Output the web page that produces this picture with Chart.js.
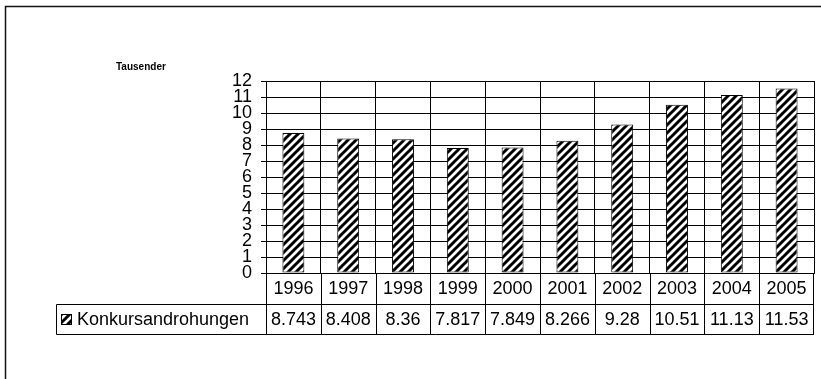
<!DOCTYPE html>
<html>
<head>
<meta charset="utf-8">
<script src="https://cdn.jsdelivr.net/npm/chart.js@4/dist/chart.umd.min.js"></script>
<style>
  html, body { margin: 0; padding: 0; background: #fff; }
  #wrap { width: 821px; height: 379px; position: relative; }
</style>
</head>
<body>
<div id="wrap"><canvas id="c" width="821" height="379"></canvas></div>
<script>
// Years shown as categories and in the data table header row
const years = ['1996', '1997', '1998', '1999', '2000', '2001', '2002', '2003', '2004', '2005'];
// Konkursandrohungen in thousands
const konkursandrohungen = [8.743, 8.408, 8.36, 7.817, 7.849, 8.266, 9.28, 10.51, 11.13, 11.53];
const seriesName = 'Konkursandrohungen';
const unitLabel = 'Tausender';
// Value axis range
const yMin = 0;
const yMax = 12;
const yStep = 1;

const FONT = '"Liberation Sans", Arial, sans-serif';

// Diagonal hatch fill ("/" stripes)
function makeHatch() {
  const s = 8;
  const c = document.createElement('canvas');
  c.width = s; c.height = s;
  const g = c.getContext('2d');
  g.fillStyle = '#fff';
  g.fillRect(0, 0, s, s);
  g.strokeStyle = '#000';
  g.lineWidth = 3;
  g.beginPath();
  for (let k = -s; k <= s; k += s) {
    g.moveTo(k - 1, s + 1);
    g.lineTo(k + s + 1, -1);
  }
  g.stroke();
  return g.createPattern(c, 'repeat');
}
const hatch = makeHatch();

// Frame, unit label and the data table under the plot
const tablePlugin = {
  id: 'dataTable',
  afterDraw(chart) {
    const ctx = chart.ctx;
    const area = chart.chartArea;
    const x = chart.scales.x;
    const n = years.length;
    const colW = (area.right - area.left) / n;
    const top = area.bottom;
    const mid = top + 31;
    const bot = mid + 30;
    const legendLeft = 56;

    ctx.save();
    // outer frame
    ctx.strokeStyle = '#111';
    ctx.lineWidth = 1.5;
    ctx.beginPath();
    ctx.moveTo(5.5, chart.height + 2);
    ctx.lineTo(5.5, 6.5);
    ctx.lineTo(chart.width + 2, 6.5);
    ctx.stroke();

    // unit label
    ctx.fillStyle = '#000';
    ctx.font = 'bold 10px ' + FONT;
    ctx.textAlign = 'left';
    ctx.textBaseline = 'middle';
    ctx.fillText(unitLabel, 116, 67);

    // table grid
    ctx.strokeStyle = '#000';
    ctx.lineWidth = 1;
    ctx.beginPath();
    const L = Math.round(area.left) + 0.5;
    const R = Math.round(area.right) - 0.5;
    ctx.moveTo(L, top); ctx.lineTo(L, bot + 0.5);
    for (let i = 0; i <= n; i++) {
      const px = Math.round(area.left + i * colW) + (i === n ? -0.5 : 0.5);
      ctx.moveTo(px, top); ctx.lineTo(px, bot + 0.5);
    }
    ctx.moveTo(legendLeft + 0.5, mid + 0.5); ctx.lineTo(R + 0.5, mid + 0.5);
    ctx.moveTo(legendLeft + 0.5, bot + 0.5); ctx.lineTo(R + 0.5, bot + 0.5);
    ctx.moveTo(legendLeft + 0.5, mid + 0.5); ctx.lineTo(legendLeft + 0.5, bot + 0.5);
    ctx.stroke();

    // header years and values
    ctx.font = '18px ' + FONT;
    ctx.textAlign = 'center';
    ctx.textBaseline = 'middle';
    ctx.fillStyle = '#000';
    for (let i = 0; i < n; i++) {
      const cx = x.getPixelForValue(i);
      ctx.fillText(years[i], cx, (top + mid) / 2 + 1);
      ctx.fillText(String(konkursandrohungen[i]), cx, (mid + bot) / 2 + 1);
    }

    // legend key and series name
    const rowC = (mid + bot) / 2;
    ctx.fillStyle = hatch;
    ctx.fillRect(61, rowC - 5, 10, 10);
    ctx.strokeStyle = '#000';
    ctx.strokeRect(61.5, rowC - 4.5, 10, 10);
    ctx.fillStyle = '#000';
    ctx.textAlign = 'left';
    ctx.fillText(seriesName, 77, rowC + 1);
    ctx.restore();
  }
};

new Chart(document.getElementById('c'), {
  type: 'bar',
  data: {
    labels: years,
    datasets: [{
      label: seriesName,
      data: konkursandrohungen,
      backgroundColor: hatch,
      borderColor: '#000',
      borderWidth: 1,
      borderSkipped: false,
      barPercentage: 0.4,
      categoryPercentage: 1
    }]
  },
  options: {
    responsive: false,
    animation: false,
    events: [],
    layout: { padding: { left: 0, top: 81, right: 7, bottom: 106 } },
    plugins: {
      legend: { display: false },
      title: { display: false },
      tooltip: { enabled: false }
    },
    scales: {
      x: {
        offset: true,
        grid: { display: true, offset: true, color: '#000', lineWidth: 1, drawTicks: false },
        border: { display: true, color: '#000', width: 1 },
        ticks: { display: false },
        afterFit(s) { s.height = 0; }
      },
      y: {
        min: yMin,
        max: yMax,
        grid: { color: '#000', lineWidth: 1, drawTicks: true, tickLength: 5 },
        border: { display: true, color: '#000', width: 1 },
        ticks: {
          stepSize: yStep,
          autoSkip: false,
          padding: 9,
          color: '#000',
          font: { family: FONT, size: 18 }
        },
        afterFit(s) { s.width = 266; }
      }
    }
  },
  plugins: [tablePlugin]
});
</script>
</body>
</html>
